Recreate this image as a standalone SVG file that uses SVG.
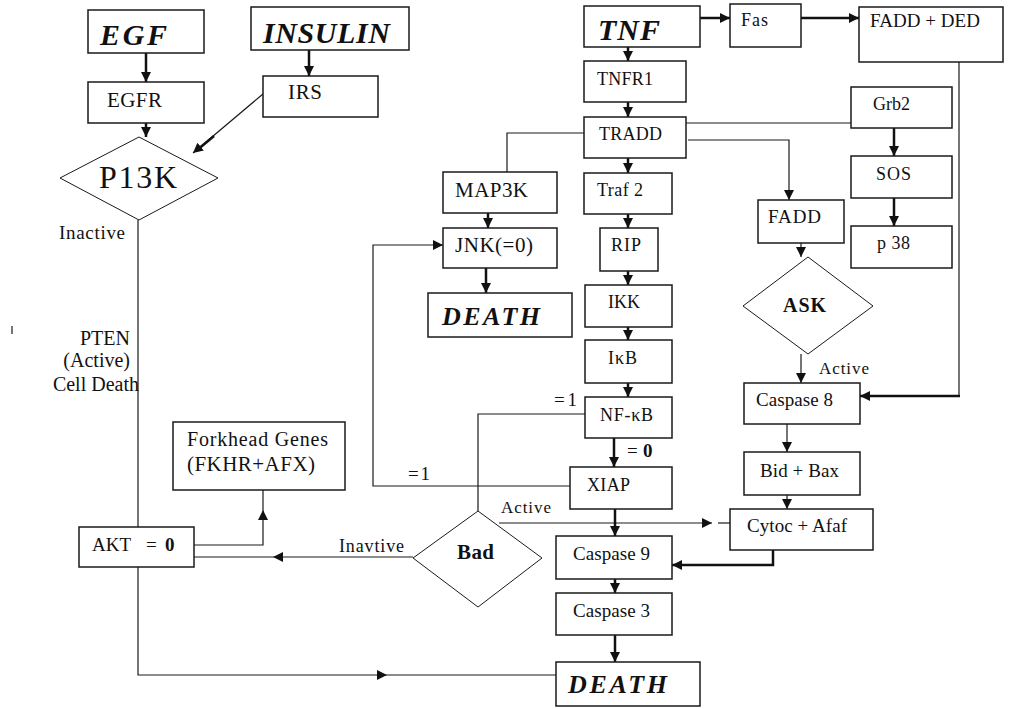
<svg xmlns="http://www.w3.org/2000/svg" width="1013" height="709" viewBox="0 0 1013 709" font-size="18">
<style>
.box{fill:#fff;stroke:#1a1a1a;stroke-width:1.5}
.dia{fill:#fff;stroke:#1a1a1a;stroke-width:1}
.t{font-family:"Liberation Serif","Times New Roman",serif;fill:#111}
.big{font-family:"Liberation Serif","Times New Roman",serif;font-weight:bold;font-style:italic;fill:#111}
.b{font-weight:bold}
.c{fill:none;stroke:#1a1a1a;stroke-width:1.2}
.k{fill:none;stroke:#111;stroke-width:2.5}
</style>
<defs>
<marker id="a" viewBox="0 0 10 10" refX="10" refY="5" markerWidth="10" markerHeight="10" markerUnits="userSpaceOnUse" orient="auto"><path d="M0,0L10,5L0,10z" fill="#111"/></marker>
</defs>
<rect width="1013" height="709" fill="#fff"/>

<g id="connectors">
<path class="k" d="M146,53V82" marker-end="url(#a)"/>
<path class="k" d="M146,123V137" marker-end="url(#a)"/>
<path class="k" d="M309,50V76" marker-end="url(#a)"/>
<path class="c" d="M263,94L193,153" marker-end="url(#a)"/>
<path class="k" d="M214,136L196,151"/>
<path class="c" d="M138,220V527"/>
<path class="c" d="M138,567V675H387" marker-end="url(#a)"/>
<path class="c" d="M387,675H558"/>
<path class="c" d="M194,545H263V510" marker-end="url(#a)"/>
<path class="c" d="M263,510V490"/>
<path class="c" d="M413,557H273" marker-end="url(#a)"/>
<path class="c" d="M273,557H194"/>
<path class="c" d="M478,511V414H585"/>
<path class="c" d="M570,486H373V245H443" marker-end="url(#a)"/>
<path class="c" d="M499,523H712" marker-end="url(#a)"/>
<path class="c" d="M718,523H730"/>
<path d="M524,546L531,553L526,553z" fill="#111"/>
<path class="k" d="M628,47V61" marker-end="url(#a)"/>
<path class="k" d="M628,102V117" marker-end="url(#a)"/>
<path class="k" d="M628,158V173" marker-end="url(#a)"/>
<path class="k" d="M628,214V228" marker-end="url(#a)"/>
<path class="k" d="M628,271V285" marker-end="url(#a)"/>
<path class="k" d="M628,327V340" marker-end="url(#a)"/>
<path class="k" d="M628,383V397" marker-end="url(#a)"/>
<path class="k" d="M614,438V467" marker-end="url(#a)"/>
<path class="k" d="M615,509V536" marker-end="url(#a)"/>
<path class="k" d="M615,579V593" marker-end="url(#a)"/>
<path class="k" d="M615,635V662" marker-end="url(#a)"/>
<path class="c" d="M584,133H507V172"/>
<path class="k" d="M488,213V228" marker-end="url(#a)"/>
<path class="k" d="M486,268V293" marker-end="url(#a)"/>
<path class="k" d="M700,18H730" marker-end="url(#a)"/>
<path class="k" d="M801,18H859" marker-end="url(#a)"/>
<path class="c" d="M959,62V396"/>
<path class="k" d="M960,396H860" marker-end="url(#a)"/>
<path class="c" d="M686,123H851"/>
<path class="c" d="M688,140H789V200" marker-end="url(#a)"/>
<path class="k" d="M894,128V156" marker-end="url(#a)"/>
<path class="k" d="M894,198V226" marker-end="url(#a)"/>
<path class="c" d="M801,243V257" marker-end="url(#a)"/>
<path class="c" d="M801,354V383" marker-end="url(#a)"/>
<path class="c" d="M787,424V452" marker-end="url(#a)"/>
<path class="c" d="M787,495V509" marker-end="url(#a)"/>
<path class="k" d="M773,550V565H672" marker-end="url(#a)"/>
<path class="c" d="M12,326V334"/>
</g>

<g id="EGF"><rect class="box" x="88" y="10" width="116" height="43"/><text class="big" x="100" y="45" font-size="30" textLength="67">EGF</text></g>
<g id="INSULIN"><rect class="box" x="251" y="7" width="158" height="43"/><text class="big" x="263" y="43" font-size="30" textLength="127">INSULIN</text></g>
<g id="EGFR"><rect class="box" x="88" y="82" width="116" height="41"/><text class="t" x="107" y="107" font-size="21" textLength="55">EGFR</text></g>
<g id="IRS"><rect class="box" x="263" y="76" width="115" height="41"/><text class="t" x="288" y="99" font-size="21" textLength="34">IRS</text></g>
<g id="P13K"><polygon class="dia" points="60,178 139,137 218,178 139,220"/><text class="t" x="99" y="188" font-size="32" textLength="78">P13K</text></g>
<g id="labels-left">
<text class="t" x="59" y="239" font-size="19" textLength="66">Inactive</text>
<text class="t" x="130" y="345" font-size="20" text-anchor="end">PTEN</text>
<text class="t" x="130" y="367" font-size="20" text-anchor="end">(Active)</text>
<text class="t" x="139" y="391" font-size="20" text-anchor="end">Cell Death</text>
</g>
<g id="Forkhead"><rect class="box" x="173" y="422" width="172" height="68"/><text class="t" x="187" y="446" font-size="20" textLength="141">Forkhead Genes</text><text class="t" x="187" y="471" font-size="21" textLength="128">(FKHR+AFX)</text></g>
<g id="AKT"><rect class="box" x="79" y="527" width="115" height="40"/><text class="t" x="92" y="551" font-size="19">AKT<tspan x="146">=</tspan><tspan x="165" class="b">0</tspan></text></g>
<g id="Bad"><polygon class="dia" points="413,558 478,511 542,558 478,607"/><text class="t b" x="457" y="559" font-size="21" textLength="37">Bad</text></g>
<g id="bad-labels">
<text class="t" x="339" y="552" textLength="65">Inavtive</text>
<text class="t" x="501" y="513" font-size="17" textLength="50">Active</text>
<text class="t" x="554" y="406" font-size="19" textLength="23">=1</text>
<text class="t" x="408" y="480" font-size="19" textLength="22">=1</text>
<text class="t" x="627" y="457" font-size="19">=<tspan x="643" class="b">0</tspan></text>
</g>
<g id="TNF"><rect class="box" x="584" y="6" width="116" height="41"/><text class="big" x="598" y="40" font-size="30" textLength="62">TNF</text></g>
<g id="TNFR1"><rect class="box" x="584" y="61" width="102" height="41"/><text class="t" x="597" y="85" textLength="56">TNFR1</text></g>
<g id="TRADD"><rect class="box" x="584" y="117" width="102" height="41"/><text class="t" x="599" y="140" textLength="63">TRADD</text></g>
<g id="Traf2"><rect class="box" x="584" y="173" width="88" height="41"/><text class="t" x="597" y="196" textLength="46">Traf 2</text></g>
<g id="RIP"><rect class="box" x="600" y="228" width="58" height="43"/><text class="t" x="611" y="251" textLength="30">RIP</text></g>
<g id="IKK"><rect class="box" x="585" y="285" width="87" height="42"/><text class="t" x="608" y="308" textLength="32">IKK</text></g>
<g id="IkB"><rect class="box" x="585" y="340" width="87" height="43"/><text class="t" x="608" y="364" textLength="29">IκB</text></g>
<g id="NFkB"><rect class="box" x="585" y="397" width="87" height="41"/><text class="t" x="600" y="421" textLength="53">NF-κB</text></g>
<g id="XIAP"><rect class="box" x="570" y="467" width="102" height="42"/><text class="t" x="587" y="491" textLength="43">XIAP</text></g>
<g id="Caspase9"><rect class="box" x="556" y="536" width="116" height="43"/><text class="t" x="573" y="560" font-size="19" textLength="77">Caspase 9</text></g>
<g id="Caspase3"><rect class="box" x="556" y="593" width="116" height="42"/><text class="t" x="573" y="617" font-size="19" textLength="77">Caspase 3</text></g>
<g id="DEATH2"><rect class="box" x="556" y="662" width="144" height="44"/><text class="big" x="568" y="693" font-size="26" textLength="99">DEATH</text></g>
<g id="MAP3K"><rect class="box" x="443" y="172" width="114" height="41"/><text class="t" x="455" y="197" font-size="21" textLength="73">MAP3K</text></g>
<g id="JNK"><rect class="box" x="443" y="228" width="114" height="40"/><text class="t" x="455" y="252" font-size="21" textLength="78">JNK(=0)</text></g>
<g id="DEATH1"><rect class="box" x="428" y="293" width="144" height="44"/><text class="big" x="442" y="325" font-size="26" textLength="98">DEATH</text></g>
<g id="Fas"><rect class="box" x="730" y="4" width="71" height="43"/><text class="t" x="741" y="26" textLength="27">Fas</text></g>
<g id="FADDDED"><rect class="box" x="859" y="7" width="144" height="55"/><text class="t" x="870" y="27" font-size="19" textLength="110">FADD + DED</text></g>
<g id="Grb2"><rect class="box" x="851" y="87" width="101" height="41"/><text class="t" x="873" y="110" textLength="37">Grb2</text></g>
<g id="SOS"><rect class="box" x="851" y="156" width="101" height="42"/><text class="t" x="876" y="180" textLength="35">SOS</text></g>
<g id="p38"><rect class="box" x="851" y="226" width="101" height="42"/><text class="t" x="877" y="249" textLength="33">p 38</text></g>
<g id="FADD"><rect class="box" x="758" y="200" width="86" height="43"/><text class="t" x="768" y="223" font-size="19" textLength="53">FADD</text></g>
<g id="ASK"><polygon class="dia" points="743,306 808,257 873,306 808,354"/><text class="t b" x="783" y="312" font-size="20" textLength="43">ASK</text></g>
<text class="t" x="819" y="374" font-size="17" textLength="50">Active</text>
<g id="Caspase8"><rect class="box" x="744" y="383" width="116" height="41"/><text class="t" x="756" y="406" font-size="19" textLength="77">Caspase 8</text></g>
<g id="BidBax"><rect class="box" x="744" y="452" width="116" height="43"/><text class="t" x="760" y="477" font-size="19" textLength="79">Bid + Bax</text></g>
<g id="Cytoc"><rect class="box" x="730" y="509" width="143" height="41"/><text class="t" x="747" y="532" font-size="19" textLength="100">Cytoc + Afaf</text></g>
</svg>
